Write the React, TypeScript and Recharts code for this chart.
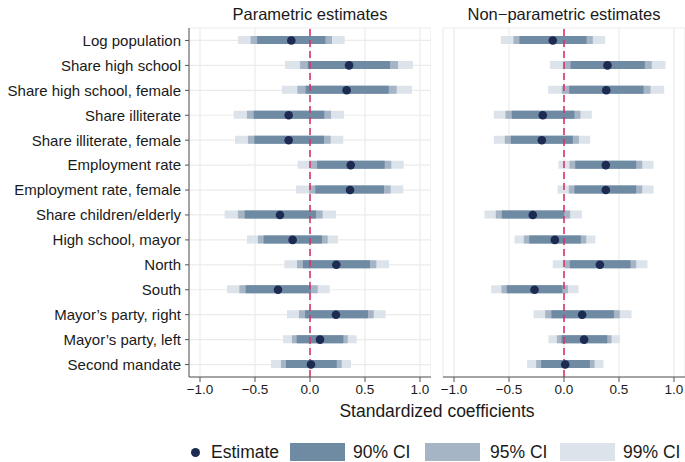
import {
  ComposedChart,
  Bar,
  Line,
  XAxis,
  YAxis,
  CartesianGrid,
  ReferenceLine,
} from "recharts";

const labels = [
  "Log population",
  "Share high school",
  "Share high school, female",
  "Share illiterate",
  "Share illiterate, female",
  "Employment rate",
  "Employment rate, female",
  "Share children/elderly",
  "High school, mayor",
  "North",
  "South",
  "Mayor\u2019s party, right",
  "Mayor\u2019s party, left",
  "Second mandate",
];

const xTicks = [-1, -0.5, 0, 0.5, 1];

// parametric panel
const paramEst = [-0.17, 0.355, 0.333, -0.194, -0.194, 0.37, 0.364, -0.273, -0.158, 0.239, -0.291, 0.236, 0.091, 0.009];
const paramCi90: [number, number][] = [
  [-0.48, 0.14], [-0.02, 0.727], [-0.04, 0.715], [-0.512, 0.13], [-0.506, 0.127],
  [0.064, 0.679], [0.048, 0.673], [-0.594, 0.055], [-0.421, 0.109], [-0.064, 0.545],
  [-0.585, 0.009], [-0.045, 0.527], [-0.121, 0.303], [-0.218, 0.243],
];
const paramCi95: [number, number][] = [
  [-0.54, 0.2], [-0.09, 0.8], [-0.115, 0.788], [-0.573, 0.191], [-0.564, 0.188],
  [0.006, 0.739], [-0.009, 0.733], [-0.655, 0.115], [-0.473, 0.161], [-0.118, 0.603],
  [-0.642, 0.07], [-0.1, 0.579], [-0.164, 0.343], [-0.264, 0.288],
];
const paramCi99: [number, number][] = [
  [-0.655, 0.315], [-0.227, 0.936], [-0.255, 0.927], [-0.694, 0.309], [-0.682, 0.303],
  [-0.112, 0.852], [-0.127, 0.848], [-0.776, 0.236], [-0.573, 0.255], [-0.233, 0.718],
  [-0.755, 0.179], [-0.209, 0.688], [-0.245, 0.424], [-0.355, 0.373],
];

// non-parametric panel
const nonparEst = [-0.102, 0.395, 0.384, -0.193, -0.202, 0.38, 0.38, -0.284, -0.083, 0.326, -0.268, 0.165, 0.183, 0.011];
const nonparCi90: [number, number][] = [
  [-0.405, 0.205], [0.059, 0.735], [0.047, 0.723], [-0.474, 0.095], [-0.483, 0.08],
  [0.102, 0.656], [0.095, 0.656], [-0.565, 0.002], [-0.316, 0.153], [0.053, 0.605],
  [-0.52, -0.014], [-0.114, 0.453], [-0.023, 0.393], [-0.207, 0.235],
];
const nonparCi95: [number, number][] = [
  [-0.459, 0.262], [-0.005, 0.798], [-0.02, 0.786], [-0.532, 0.15], [-0.538, 0.135],
  [0.05, 0.711], [0.044, 0.711], [-0.62, 0.056], [-0.365, 0.202], [0.005, 0.656],
  [-0.568, 0.035], [-0.171, 0.507], [-0.065, 0.432], [-0.253, 0.277],
];
const nonparCi99: [number, number][] = [
  [-0.575, 0.375], [-0.129, 0.923], [-0.144, 0.911], [-0.638, 0.253], [-0.638, 0.238],
  [-0.05, 0.814], [-0.059, 0.814], [-0.723, 0.162], [-0.45, 0.286], [-0.102, 0.759],
  [-0.662, 0.132], [-0.277, 0.614], [-0.141, 0.507], [-0.335, 0.359],
];

const FONT = '"Liberation Sans", Arial, Helvetica, sans-serif';
const C90 = "#6f8aa3";
const C95 = "#a5b5c5";
const C99 = "#dce3ea";
const DOT = "#1d2a52";
const AXIS = "#555";

const build = (est: number[], c90: [number, number][], c95: [number, number][], c99: [number, number][]) =>
  labels.map((label, i) => ({ label, est: est[i], ci90: c90[i], ci95: c95[i], ci99: c99[i] }));

const fmt = (v: number) => (v < 0 ? "\u2212" : "") + Math.abs(v).toFixed(1);

type PanelProps = {
  data: ReturnType<typeof build>;
  showLabels: boolean;
  width: number;
  labelWidth: number;
};

const Panel = ({ data, showLabels, width, labelWidth }: PanelProps) => (
  <ComposedChart
    layout="vertical"
    width={width}
    height={400}
    data={data}
    margin={{ top: 28, right: 0, bottom: 0, left: 0 }}
    style={{ fontFamily: FONT }}
  >
    <CartesianGrid yAxisId="a" stroke="#ebebeb" strokeWidth={1.2} />
    <XAxis
      type="number"
      domain={[-1.1, 1.1]}
      ticks={xTicks}
      allowDataOverflow
      height={23}
      tickSize={5}
      tickFormatter={fmt}
      tick={{ fontSize: 13.5, fill: "#1a1a1a" }}
      stroke={AXIS}
    />
    <YAxis
      yAxisId="a"
      type="category"
      dataKey="label"
      width={labelWidth}
      tickSize={4}
      tickMargin={4}
      interval={0}
      tick={showLabels ? { fontSize: 15, fill: "#1a1a1a" } : false}
      axisLine={showLabels ? { stroke: AXIS } : false}
      tickLine={showLabels ? { stroke: AXIS } : false}
    />
    <YAxis yAxisId="b" type="category" dataKey="label" hide />
    <YAxis yAxisId="c" type="category" dataKey="label" hide />
    <ReferenceLine
      yAxisId="a"
      x={0}
      stroke="#d7336b"
      strokeWidth={1.6}
      strokeDasharray="7 4"
    />
    <Bar yAxisId="c" dataKey="ci99" fill={C99} barSize={8} isAnimationActive={false} />
    <Bar yAxisId="b" dataKey="ci95" fill={C95} barSize={8} isAnimationActive={false} />
    <Bar yAxisId="a" dataKey="ci90" fill={C90} barSize={8} isAnimationActive={false} />
    <Line
      yAxisId="a"
      dataKey="est"
      stroke="none"
      dot={{ r: 4.3, fill: DOT, stroke: "none" }}
      activeDot={false}
      isAnimationActive={false}
    />
  </ComposedChart>
);

const LegendBox = ({ color, left }: { color: string; left: number }) => (
  <div style={{ position: "absolute", left, top: 443, width: 55, height: 18, background: color }} />
);

const LegendText = ({ text, left }: { text: string; left: number }) => (
  <div style={{ position: "absolute", left, top: 441, fontSize: 17.5, lineHeight: "22px", color: "#1a1a1a" }}>
    {text}
  </div>
);

export default function App() {
  const paramData = build(paramEst, paramCi90, paramCi95, paramCi99);
  const nonparData = build(nonparEst, nonparCi90, nonparCi95, nonparCi99);

  return (
    <div
      style={{
        position: "absolute",
        left: 0,
        top: 0,
        width: 685,
        height: 462,
        background: "#fff",
        fontFamily: FONT,
        overflow: "hidden",
      }}
    >
      <div style={{ position: "absolute", left: 189, width: 242, top: 5, textAlign: "center", fontSize: 16.5, color: "#1a1a1a" }}>
        Parametric estimates
      </div>
      <div style={{ position: "absolute", left: 443, width: 242, top: 5, textAlign: "center", fontSize: 16.5, color: "#1a1a1a" }}>
        Non{"\u2212"}parametric estimates
      </div>

      <div style={{ position: "absolute", left: 0, top: 0 }}>
        <Panel data={paramData} showLabels width={431} labelWidth={189} />
      </div>
      <div style={{ position: "absolute", left: 438, top: 0 }}>
        <Panel data={nonparData} showLabels={false} width={247} labelWidth={5} />
      </div>

      <div style={{ position: "absolute", left: 189, width: 496, top: 401, textAlign: "center", fontSize: 17.5, color: "#1a1a1a" }}>
        Standardized coefficients
      </div>

      <div style={{ position: "absolute", left: 191, top: 448, width: 9, height: 9, borderRadius: "50%", background: DOT }} />
      <LegendText text="Estimate" left={211} />
      <LegendBox color={C90} left={290} />
      <LegendText text="90% CI" left={353} />
      <LegendBox color={C95} left={425} />
      <LegendText text="95% CI" left={490} />
      <LegendBox color={C99} left={560} />
      <LegendText text="99% CI" left={623} />
    </div>
  );
}
